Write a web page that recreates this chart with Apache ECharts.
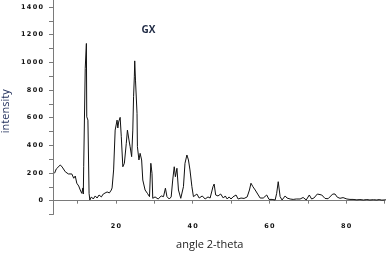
<!DOCTYPE html>
<html>
<head>
<meta charset="utf-8">
<script src="https://cdn.jsdelivr.net/npm/echarts@6/dist/echarts.min.js"></script>
<style>html,body{margin:0;padding:0;background:#fff;}#c{width:386px;height:256px;}</style>
</head>
<body>
<div id="c"></div>
<script>
// 2-theta angles (degrees)
var angles = [4.0,4.45,5.5,6.0,6.8,7.6,8.1,8.5,9.0,9.4,9.8,10.3,10.7,11.1,11.4,11.5,11.6,12.0,12.3,12.4,12.7,13.0,13.2,13.6,14.1,14.6,15.1,15.6,16.2,16.7,17.2,17.7,18.3,18.8,19.0,19.4,19.8,20.3,20.5,20.7,21.1,21.4,21.8,22.2,22.7,23.0,23.4,23.7,24.1,24.4,24.6,24.8,24.9,25.1,25.5,25.6,26.0,26.3,26.7,27.0,27.6,28.2,28.75,29.1,29.3,29.4,29.6,30.2,31.0,31.8,32.4,32.9,33.3,33.9,34.4,34.8,35.2,35.5,35.9,36.3,36.9,37.6,38.0,38.5,38.9,39.3,39.8,40.2,40.65,41.1,41.7,42.5,43.25,44.0,44.55,45.3,45.6,46.0,46.6,47.3,48.0,48.5,49.0,49.5,50.0,50.5,51.3,51.85,52.6,53.4,54.2,54.8,55.2,55.7,56.0,56.3,56.8,57.1,57.6,58.4,59.3,59.9,60.7,61.5,61.9,62.3,62.6,62.8,63.3,64.1,64.6,65.4,66.2,67.0,68.0,68.8,69.6,70.4,71.0,71.6,72.5,73.0,73.65,74.5,75.3,76.5,77.1,77.7,78.4,79.2,80.2,81.0,81.8,82.8,83.6,84.5,85.4,86.2,87.1,88.0,88.6,89.3,90.4];
// intensity values
var intensity = [198,229,258,243,209,193,185,193,162,178,126,106,77,53,92,48,245,956,1136,606,582,53,5,27,12,34,19,41,27,48,34,63,56,77,92,222,510,582,525,568,602,462,245,270,414,510,438,390,318,510,751,895,1010,871,631,390,294,342,294,149,77,53,29,270,222,198,17,27,12,34,29,90,29,12,27,149,245,173,234,77,17,101,270,330,294,222,101,29,41,48,19,34,12,27,19,101,120,41,34,48,19,34,12,27,12,27,41,12,19,16,27,77,126,101,110,77,70,41,19,19,41,9,9,5,53,137,149,29,5,34,19,12,9,12,12,23,5,41,12,19,48,34,41,16,14,48,48,25,17,22,12,9,9,6,8,5,8,5,7,5,8,4,6];
var yTickValues = [-100,0,100,200,300,400,500,600,700,800,900,1000,1100,1200,1300,1400];
var yLabelValues = [0,200,400,600,800,1000,1200,1400];
var xTickValues = [10,20,30,40,50,60,70,80,90];
var xLabelValues = [20,40,60,80];
var chartTitle = 'GX';
var xName = 'angle 2-theta';
var yName = 'intensity';

var data = angles.map(function(a, i){ return [a, intensity[i]]; });
function spaced(v){ return String(v).split('').join('\u2009'); }

var chart = echarts.init(document.getElementById('c'), null, {renderer:'canvas'});
chart.setOption({
  animation: false,
  backgroundColor: '#ffffff',
  title: {
    text: chartTitle,
    left: 143.5, top: 20, textAlign: 'center',
    textStyle: {fontFamily: 'Open Sans', fontWeight: 'bold', fontSize: 10, color: '#1f2a44'}
  },
  grid: {left: 53, right: 1.5, top: 0, bottom: 41.5, containLabel: false, outerBoundsMode: 'none'},
  xAxis: {
    type: 'value', min: 3.6, max: 90,
    name: xName, nameLocation: 'middle', nameGap: 25, nameMoveOverlap: false,
    nameTextStyle: {fontFamily: 'Open Sans', fontSize: 11, color: '#222', padding: [0, 18, 0, 0]},
    axisLine: {show: true, lineStyle: {color: '#7a7a7a', width: 1}},
    axisTick: {show: true, length: 3, customValues: xTickValues, lineStyle: {color: '#7a7a7a'}},
    axisLabel: {customValues: xLabelValues, margin: 8, formatter: function(v){return spaced(v);},
      fontFamily: 'DejaVu Sans', fontWeight: 'bold', fontSize: 6.5, color: '#111'},
    splitLine: {show: false}
  },
  yAxis: {
    type: 'value', min: -100, max: 1450,
    name: yName, nameLocation: 'middle', nameGap: 42, nameRotate: 90, nameMoveOverlap: false,
    nameTextStyle: {fontFamily: 'Open Sans', fontSize: 11, color: '#1f2d5a', padding: [0, 8, 0, 0]},
    axisLine: {show: true, lineStyle: {color: '#7a7a7a', width: 1}},
    axisTick: {show: true, length: 4, customValues: yTickValues, lineStyle: {color: '#7a7a7a'}},
    axisLabel: {customValues: yLabelValues, margin: 10, formatter: function(v){return spaced(v);},
      fontFamily: 'DejaVu Sans', fontWeight: 'bold', fontSize: 6.5, color: '#111'},
    splitLine: {show: false}
  },
  series: [{
    type: 'line', data: data, showSymbol: false, symbol: 'none',
    lineStyle: {color: '#111', width: 1}, clip: true
  }]
});
</script>
</body>
</html>
